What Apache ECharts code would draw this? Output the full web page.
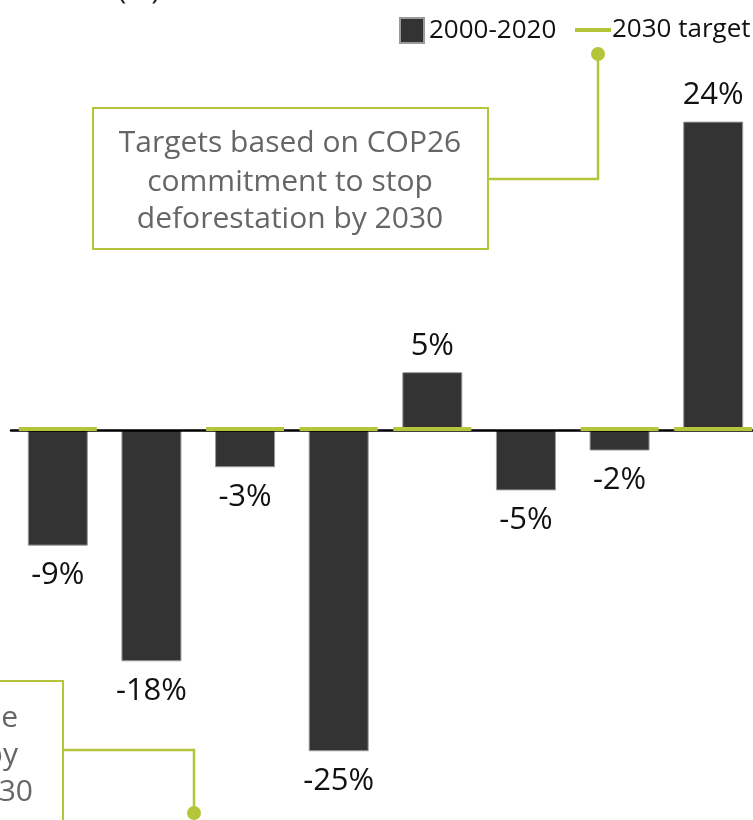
<!DOCTYPE html>
<html>
<head>
<meta charset="utf-8">
<script src="https://cdn.jsdelivr.net/npm/echarts@6/dist/echarts.min.js"></script>
<style>html,body{margin:0;padding:0;background:#fff}#c{width:753px;height:820px}</style>
</head>
<body>
<div id="c"></div>
<script>
const categories = ['Region 1','Region 2','Region 3','Region 4','Region 5','Region 6','Region 7','Region 8'];
const change2000_2020 = [-9, -18, -2.9, -25, 4.5, -4.7, -1.6, 24];
const target2030 = [0, null, 0, 0, 0, null, 0, 0];
const seriesNames = ['2000-2020', '2030 target'];
const noteTop = ['Targets based on COP26', 'commitment to stop', 'deforestation by 2030'];
const noteBottom = ['Targets based on the same pace', 'of decline as the region, by', 'around 2030'];

const GREEN = '#b5c53a';
const DARK = '#333333';
const FONT = 'Open Sans';

const chart = echarts.init(document.getElementById('c'), null, {renderer: 'canvas'});

const barData = change2000_2020.map(v => ({
  value: v,
  label: {position: v >= 0 ? 'top' : 'bottom', distance: v >= 0 ? 11 : 14}
}));

function textEl(str, x, y, align, color, size) {
  return {type: 'text', x: x, y: y, z: 10,
    style: {text: str, fill: color, font: size + 'px "' + FONT + '"', textAlign: align, textVerticalAlign: 'middle'}};
}

const graphics = [
  // partial title at top
  {type: 'text', x: 160, y: 5, style: {text: 'Forest cover (%)', fill: '#222', font: '30px "' + FONT + '"', textAlign: 'right', textVerticalAlign: 'bottom'}},
  // top note
  {type: 'polyline', z: 9, shape: {points: [[488, 179], [598, 179], [598, 54]]}, style: {stroke: GREEN, lineWidth: 2.5, fill: null}},
  {type: 'circle', z: 9, shape: {cx: 598, cy: 54, r: 7}, style: {fill: GREEN}},
  {type: 'rect', z: 9, shape: {x: 93, y: 108, width: 395, height: 141}, style: {stroke: GREEN, lineWidth: 2, fill: '#fff'}},
  textEl(noteTop[0], 290, 143, 'center', '#666', 30),
  textEl(noteTop[1], 290, 182, 'center', '#666', 30),
  textEl(noteTop[2], 290, 219, 'center', '#666', 30),
  // bottom note
  {type: 'polyline', z: 9, shape: {points: [[63, 750], [194, 750], [194, 813]]}, style: {stroke: GREEN, lineWidth: 2.5, fill: null}},
  {type: 'circle', z: 9, shape: {cx: 194, cy: 813, r: 7}, style: {fill: GREEN}},
  {type: 'rect', z: 9, shape: {x: -400, y: 681, width: 463, height: 300}, style: {stroke: GREEN, lineWidth: 2, fill: '#fff'}},
  textEl(noteBottom[0], 18, 718, 'right', '#666', 30),
  textEl(noteBottom[1], 18, 755, 'right', '#666', 30),
  textEl(noteBottom[2], 33, 792, 'right', '#666', 30)
];

chart.setOption({
  animation: false,
  backgroundColor: '#fff',
  textStyle: {fontFamily: FONT},
  legend: [
    {data: [seriesNames[0]], left: 394, top: 12, itemWidth: 24, itemHeight: 25, icon: 'rect',
     textStyle: {fontSize: 26, color: '#111', fontFamily: FONT}},
    {data: [seriesNames[1]], left: 570, top: 12, itemWidth: 36, itemHeight: 4, icon: 'rect',
     textStyle: {fontSize: 26, color: '#111', fontFamily: FONT, padding: [0, 0, 0, -4]}}
  ],
  grid: {left: 11, width: 749, top: 44.5, height: 771, outerBoundsMode: 'none', containLabel: false},
  xAxis: {
    type: 'category', data: categories, z: 3,
    axisLine: {onZero: true, lineStyle: {color: '#000', width: 2.5}},
    axisTick: {show: false}, axisLabel: {show: false}, splitLine: {show: false}
  },
  yAxis: {type: 'value', min: -30, max: 30, show: false},
  series: [
    {name: seriesNames[0], type: 'bar', data: barData, barWidth: 60, z: 2,
     itemStyle: {color: DARK, borderColor: '#9a9a9a', borderWidth: 1},
     label: {show: true, fontSize: 31, color: '#111', fontFamily: FONT,
       formatter: p => Math.round(p.value) + '%'}},
    {name: seriesNames[1], type: 'scatter', data: target2030, symbol: 'rect', symbolSize: [78, 4],
     symbolOffset: [0, -1], z: 4, itemStyle: {color: GREEN, opacity: 1}}
  ],
  graphic: graphics
});
</script>
</body>
</html>
